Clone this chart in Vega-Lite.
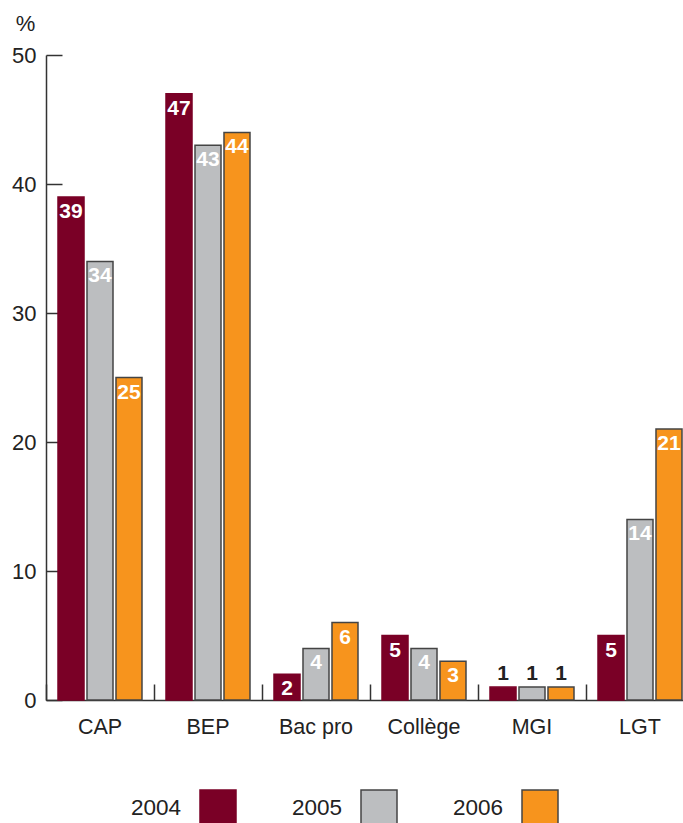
{
  "$schema": "https://vega.github.io/schema/vega-lite/v6.json",
  "width": 637,
  "height": 645,
  "autosize": {"type": "none"},
  "padding": {"left": 46, "top": 55, "right": 0, "bottom": 123},
  "background": "white",
  "config": {"view": {"stroke": null}, "font": "Liberation Sans"},
  "data": {
    "values": [
      {"cat": "CAP", "year": "2004", "value": 39},
      {"cat": "CAP", "year": "2005", "value": 34},
      {"cat": "CAP", "year": "2006", "value": 25},
      {"cat": "BEP", "year": "2004", "value": 47},
      {"cat": "BEP", "year": "2005", "value": 43},
      {"cat": "BEP", "year": "2006", "value": 44},
      {"cat": "Bac pro", "year": "2004", "value": 2},
      {"cat": "Bac pro", "year": "2005", "value": 4},
      {"cat": "Bac pro", "year": "2006", "value": 6},
      {"cat": "Collège", "year": "2004", "value": 5},
      {"cat": "Collège", "year": "2005", "value": 4},
      {"cat": "Collège", "year": "2006", "value": 3},
      {"cat": "MGI", "year": "2004", "value": 1},
      {"cat": "MGI", "year": "2005", "value": 1},
      {"cat": "MGI", "year": "2006", "value": 1},
      {"cat": "LGT", "year": "2004", "value": 5},
      {"cat": "LGT", "year": "2005", "value": 14},
      {"cat": "LGT", "year": "2006", "value": 21}
    ]
  },
  "encoding": {
    "x": {
      "field": "cat",
      "type": "nominal",
      "sort": ["CAP", "BEP", "Bac pro", "Collège", "MGI", "LGT"],
      "scale": {"range": [0, 648], "paddingInner": 0, "paddingOuter": 0},
      "axis": {
        "title": null,
        "bandPosition": 0,
        "tickSize": -16,
        "tickWidth": 1.5,
        "tickColor": "#333",
        "domainColor": "#333",
        "domainWidth": 1.5,
        "labelPadding": 32,
        "labelFontSize": 21.5,
        "labelAngle": 0,
        "labelColor": "#222",
        "labelBaseline": "top"
      }
    },
    "xOffset": {
      "field": "year",
      "type": "nominal",
      "scale": {"paddingInner": 0.103, "paddingOuter": 0.414}
    },
    "y": {
      "field": "value",
      "type": "quantitative",
      "scale": {"domain": [0, 50]},
      "axis": {
        "values": [0, 10, 20, 30, 40, 50],
        "grid": false,
        "tickSize": -16,
        "tickWidth": 1.5,
        "tickColor": "#333",
        "domainColor": "#333",
        "domainWidth": 1.5,
        "labelPadding": 26,
        "labelFontSize": 22,
        "labelColor": "#222",
        "title": "%",
        "titleAngle": 0,
        "titleFontSize": 22,
        "titleFontWeight": "normal",
        "titleColor": "#222",
        "titleX": -21,
        "titleY": -32,
        "titleAlign": "center",
        "titleBaseline": "middle"
      }
    }
  },
  "layer": [
    {
      "mark": {"type": "bar", "strokeWidth": 1.5},
      "encoding": {
        "fill": {
          "field": "year",
          "type": "nominal",
          "scale": {"domain": ["2004", "2005", "2006"], "range": ["#7a0026", "#bcbec0", "#f7941d"]},
          "legend": {
            "title": null,
            "orient": "none",
            "direction": "horizontal",
            "legendX": 153,
            "legendY": 734,
            "symbolType": "square",
            "symbolSize": 1296,
            "symbolStrokeWidth": 1.5,
            "labelFontSize": 22.5,
            "labelColor": "#222",
            "labelAlign": "right",
            "labelBaseline": "middle",
            "labelOffset": -56,
            "columnPadding": 52,
            "padding": 0
          }
        },
        "stroke": {
          "field": "year",
          "type": "nominal",
          "scale": {"domain": ["2004", "2005", "2006"], "range": ["#7a0026", "#444444", "#444444"]}
        }
      }
    },
    {
      "transform": [{"filter": "datum.value > 1"}],
      "mark": {"type": "text", "color": "white", "fontWeight": "bold", "fontSize": 21, "dy": 15, "baseline": "middle"},
      "encoding": {"text": {"field": "value", "type": "quantitative"}}
    },
    {
      "transform": [{"filter": "datum.value <= 1"}],
      "mark": {"type": "text", "color": "#222", "fontWeight": "bold", "fontSize": 21, "dy": -13, "baseline": "middle"},
      "encoding": {"text": {"field": "value", "type": "quantitative"}}
    }
  ]
}
